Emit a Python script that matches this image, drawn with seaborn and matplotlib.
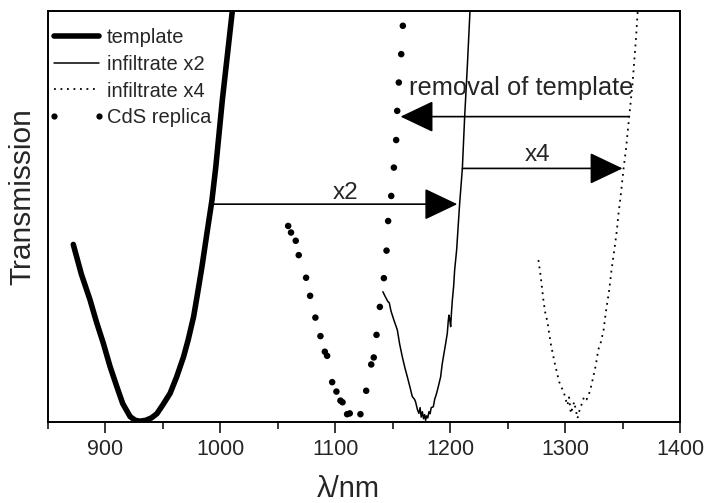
import numpy as np
import pandas as pd
import matplotlib
matplotlib.use('Agg')
import matplotlib.pyplot as plt
from matplotlib.lines import Line2D
from matplotlib.ticker import MultipleLocator
import seaborn as sns

# ============================================================
# DATA (transmission in a.u.)
# ============================================================
template_wl = [872, 879, 886.6, 892, 898.2, 904, 909.9, 915, 921.5, 926, 930, 935,
               940, 944.7, 950, 956.3, 962, 968, 972, 976.7, 980, 984, 988.3,
               992.7, 996, 1001.7, 1006, 1010.4, 1013]
template_T = [0.432, 0.36, 0.297, 0.245, 0.191, 0.135, 0.086, 0.045, 0.013, 0.004,
              0.002, 0.004, 0.01, 0.02, 0.042, 0.07, 0.11, 0.159, 0.2, 0.256, 0.31,
              0.378, 0.459, 0.54, 0.62, 0.783, 0.89, 1.0, 1.08]

inf2_wl = [1141.4, 1143.5, 1145.8, 1147, 1148.5, 1151, 1152, 1153, 1154, 1156,
           1158.3, 1160.5, 1162.7, 1165, 1167, 1169, 1169.9, 1171.5, 1172.8, 1173.8,
           1174.8, 1175.8, 1176.8, 1177.8, 1178.6, 1179.5, 1180.5, 1181.5, 1182.5,
           1183.5, 1185.3, 1186.5, 1188.2, 1190, 1191.7, 1193, 1194.6, 1196, 1197.5,
           1198.3, 1198.9, 1199.6, 1200.4, 1201.2, 1201.9, 1203, 1203.9, 1205.6,
           1208.2, 1210.6, 1212.6, 1214.9, 1217.2, 1218]
inf2_T = [0.317, 0.305, 0.293, 0.29, 0.27, 0.248, 0.24, 0.232, 0.224, 0.19,
          0.159, 0.133, 0.11, 0.085, 0.062, 0.055, 0.049, 0.03, 0.021, 0.035,
          0.012, 0.025, 0.008, 0.018, 0.004, 0.015, 0.01, 0.025, 0.02,
          0.035, 0.037, 0.055, 0.07, 0.09, 0.11, 0.14, 0.167, 0.19, 0.216,
          0.245, 0.26, 0.25, 0.232, 0.27, 0.297, 0.33, 0.37, 0.418,
          0.53, 0.617, 0.743, 0.864, 0.998, 1.03]

inf4_wl = [1276.8, 1278.8, 1281.1, 1282.6, 1284.6, 1287.5, 1291, 1294.8, 1299.1,
           1300.5, 1302, 1303.5, 1305, 1306.5, 1307.9, 1309.3, 1310.8, 1312.2,
           1313.7, 1315.2, 1316.6, 1318.8, 1321, 1322.5, 1323.9, 1326.8, 1328.8,
           1331.2, 1333.5, 1335.5, 1338.4, 1340.4, 1342.8, 1345.1, 1346.2, 1348.6,
           1350.9, 1352.9, 1355.8, 1358.7, 1361.6, 1363.1, 1364]
inf4_T = [0.394, 0.354, 0.297, 0.268, 0.244, 0.191, 0.143, 0.098, 0.07,
          0.055, 0.041, 0.06, 0.021, 0.035, 0.049, 0.03, 0.009, 0.025,
          0.037, 0.05, 0.062, 0.055, 0.07, 0.085, 0.102, 0.139, 0.175,
          0.195, 0.224, 0.268, 0.321, 0.37, 0.418, 0.467, 0.5, 0.556,
          0.617, 0.662, 0.743, 0.824, 0.929, 0.995, 1.02]

cds_wl = [1059, 1061.5, 1065.6, 1068.2, 1074.6, 1078.1, 1082.7, 1087.1, 1090.9,
          1092.9, 1097.3, 1101, 1104.5, 1106.3, 1110.3, 1112.6, 1121.9, 1126.9,
          1131.3, 1133.5, 1135.9, 1138.8, 1142.3, 1144.6, 1146, 1148.7, 1151,
          1153, 1153.9, 1155.3, 1157.4, 1158.8]
cds_T = [0.477, 0.461, 0.441, 0.406, 0.351, 0.307, 0.254, 0.209, 0.171,
         0.161, 0.097, 0.074, 0.052, 0.048, 0.019, 0.021, 0.019, 0.076,
         0.14, 0.157, 0.212, 0.28, 0.35, 0.417, 0.489, 0.55, 0.619,
         0.686, 0.757, 0.826, 0.895, 0.964]

# arrows: (tail wavelength, tip wavelength, level) and their labels
arrow_labels = ['x2', 'x4', 'removal of template']
arrow_tail = [992, 1210.6, 1355.5]
arrow_tip = [1206.2, 1350, 1156.8]
arrow_level = [0.530, 0.617, 0.743]
label_x = [1108.9, 1276.2, 1163.8]
label_y = [0.557, 0.65, 0.813]

# ============================================================
# STYLE
# ============================================================
sns.set_theme(style='ticks')
plt.rcParams['font.family'] = ['Liberation Sans', 'DejaVu Sans']

fig = plt.figure(figsize=(7.05, 5.03), dpi=100)
ax = fig.add_axes([48 / 705, 81 / 503, 632 / 705, 411 / 503])

sns.lineplot(x=template_wl, y=template_T, ax=ax, color='black', lw=4.0,
             sort=False, estimator=None)
sns.lineplot(x=inf2_wl, y=inf2_T, ax=ax, color='black', lw=1.1,
             sort=False, estimator=None)
sns.lineplot(x=inf4_wl, y=inf4_T, ax=ax, color='black', lw=1.3,
             linestyle=(0, (1, 2.6)), sort=False, estimator=None)
sns.scatterplot(x=cds_wl, y=cds_T, ax=ax, color='black', s=22,
                edgecolor='none')

for lab, x0, x1, lvl, tx, ty in zip(arrow_labels, arrow_tail, arrow_tip,
                                    arrow_level, label_x, label_y):
    ax.annotate('', xy=(x1, lvl), xytext=(x0, lvl),
                arrowprops=dict(arrowstyle='-|>,head_length=2.1,head_width=1.0',
                                mutation_scale=10, color='black', lw=1.2,
                                shrinkA=0, shrinkB=0))
    if lab == 'removal of template':
        ax.text(tx, ty, lab, fontsize=18.4, ha='left', va='center')
    else:
        ax.text(tx, ty, lab, fontsize=17.5, ha='center', va='center')

# ============================================================
# AXES
# ============================================================
ax.set_xlim(850, 1400)
ax.set_ylim(0, 1.0)
ax.xaxis.set_major_locator(MultipleLocator(100))
ax.xaxis.set_minor_locator(MultipleLocator(50))
ax.set_yticks([])
ax.tick_params(axis='x', which='major', direction='out', length=8, width=1.3,
               labelsize=15.5, pad=4)
ax.tick_params(axis='x', which='minor', direction='out', length=5, width=1.3)
for sp in ax.spines.values():
    sp.set_linewidth(1.4)
    sp.set_color('black')

ax.set_xlabel('λ/nm', fontsize=21)
ax.set_ylabel('Transmission', fontsize=21.5)
ax.xaxis.set_label_coords(0.475, -0.128)
ax.yaxis.set_label_coords(-0.018, 0.549)

handles = [
    Line2D([], [], color='black', lw=4.0),
    Line2D([], [], color='black', lw=1.1),
    Line2D([], [], color='black', lw=1.3, linestyle=(0, (1, 2.6))),
    Line2D([], [], color='black', lw=0, marker='o', markersize=4.5,
           markeredgewidth=0),
]
ax.legend(handles, ['template', 'infiltrate x2', 'infiltrate x4', 'CdS replica'],
          loc='upper left', bbox_to_anchor=(-0.02, 0.99),
          frameon=False, fontsize=14.5, handlelength=2.8,
          handletextpad=0.1, labelspacing=0.38, numpoints=2,
          borderaxespad=0.2, borderpad=0.45)

fig.savefig('out.png', dpi=100)
